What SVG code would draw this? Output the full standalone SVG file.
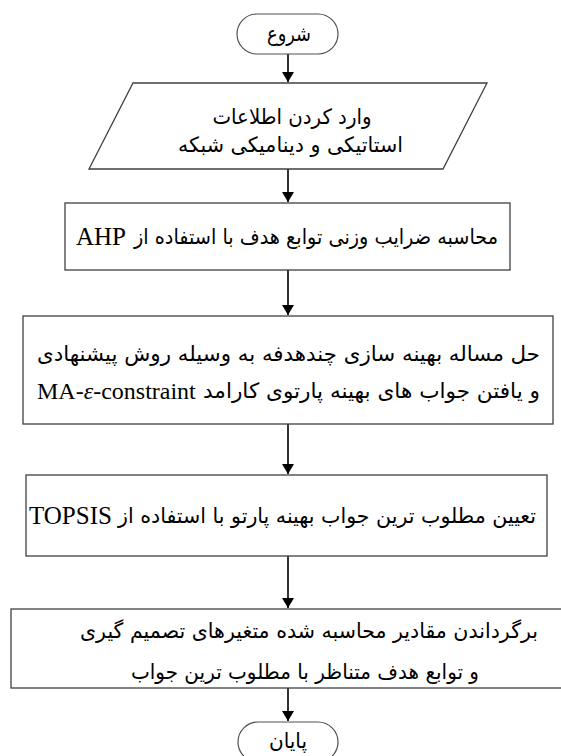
<svg xmlns="http://www.w3.org/2000/svg" width="561" height="756" viewBox="0 0 561 756">
<style>
.box{fill:#fff;stroke:#404040;stroke-width:1.3}
.term{fill:#fff;stroke:#505050;stroke-width:1.2}
.edge{stroke:#000;stroke-width:1.6;fill:none}
.sans{font-family:"DejaVu Sans","Noto Sans",sans-serif;font-size:21px;fill:#000;direction:rtl;text-anchor:middle}
.serif{font-family:"DejaVu Sans",sans-serif;font-size:21px;fill:#000;direction:rtl;text-anchor:middle}
.lat{font-family:"Liberation Serif","Times New Roman",serif;font-size:25px;fill:#000;direction:ltr;text-anchor:start}
</style>
<defs>
<marker id="arr" viewBox="0 0 10 12" refX="10" refY="6" markerWidth="10" markerHeight="12" markerUnits="userSpaceOnUse" orient="auto">
<path d="M0,0 L10,6 L0,12 Z" fill="#000"/>
</marker>
</defs>
<rect width="561" height="756" fill="#fff"/>
<g id="connectors">
<line class="edge" x1="288" y1="54" x2="288" y2="82" marker-end="url(#arr)"/>
<line class="edge" x1="288" y1="169" x2="288" y2="202" marker-end="url(#arr)"/>
<line class="edge" x1="288" y1="270" x2="288" y2="315" marker-end="url(#arr)"/>
<line class="edge" x1="288" y1="424" x2="288" y2="474" marker-end="url(#arr)"/>
<line class="edge" x1="288" y1="556" x2="288" y2="608" marker-end="url(#arr)"/>
<line class="edge" x1="288" y1="688" x2="288" y2="721" marker-end="url(#arr)"/>
</g>
<g id="start">
<rect class="term" x="237" y="14" width="101" height="40" rx="20"/>
<text class="sans" x="289" y="41" textLength="44" lengthAdjust="spacingAndGlyphs">شروع</text>
</g>
<g id="input">
<polygon class="box" points="133,83 487,83 443,169 89,169"/>
<text class="sans" x="292" y="124" textLength="159" lengthAdjust="spacingAndGlyphs">وارد کردن اطلاعات</text>
<text class="sans" x="290.5" y="152" textLength="225" lengthAdjust="spacingAndGlyphs">استاتیکی و دینامیکی شبکه</text>
</g>
<g id="ahp">
<rect class="box" x="65" y="203" width="445" height="67"/>
<text class="serif" x="316" y="244" textLength="364" lengthAdjust="spacingAndGlyphs">محاسبه ضرایب وزنی توابع هدف با استفاده از</text>
<text class="lat" x="76" y="245">AHP</text>
</g>
<g id="solve">
<rect class="box" x="23" y="316" width="530" height="108"/>
<text class="serif" x="288.5" y="361" textLength="503" lengthAdjust="spacingAndGlyphs">حل مساله بهینه سازی چندهدفه به وسیله روش پیشنهادی</text>
<text class="serif" x="371.5" y="398" textLength="337" lengthAdjust="spacingAndGlyphs">و یافتن جواب های بهینه پارتوی کارامد</text>
<text class="lat" x="37" y="399" style="font-size:24px">MA-<tspan font-style="italic">ε</tspan>-constraint</text>
</g>
<g id="topsis">
<rect class="box" x="26" y="475" width="521" height="81"/>
<text class="serif" x="327" y="523" textLength="418" lengthAdjust="spacingAndGlyphs">تعیین مطلوب ترین جواب بهینه پارتو با استفاده از</text>
<text class="lat" x="29" y="524">TOPSIS</text>
</g>
<g id="return">
<rect class="box" x="11" y="609" width="555" height="79"/>
<text class="sans" x="309" y="638" textLength="458" lengthAdjust="spacingAndGlyphs">برگرداندن مقادیر محاسبه شده متغیرهای تصمیم گیری</text>
<text class="sans" x="305" y="679" textLength="348" lengthAdjust="spacingAndGlyphs">و توابع هدف متناظر با مطلوب ترین جواب</text>
</g>
<g id="end">
<rect class="term" x="238" y="722" width="100" height="40" rx="20"/>
<text class="sans" x="288" y="748" textLength="38" lengthAdjust="spacingAndGlyphs">پایان</text>
</g>
</svg>
